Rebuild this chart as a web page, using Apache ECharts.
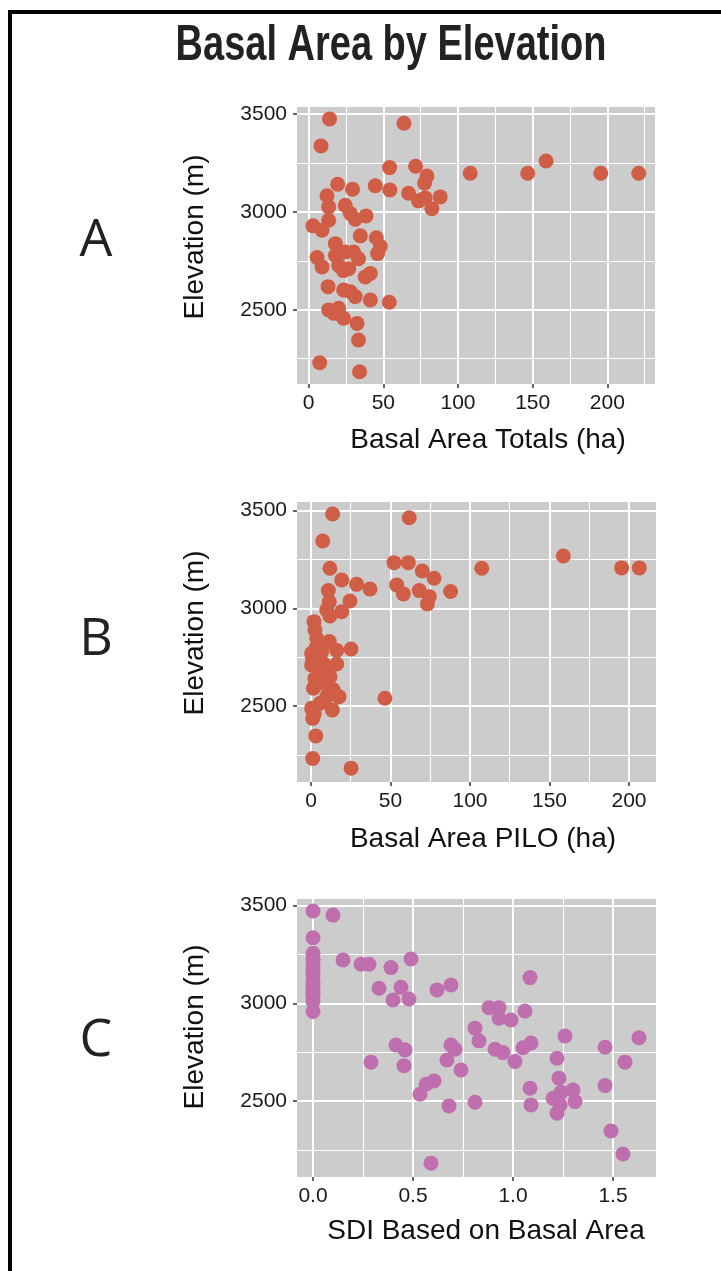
<!DOCTYPE html>
<html><head><meta charset="utf-8">
<script src="https://cdn.jsdelivr.net/npm/echarts@6.0.0/dist/echarts.min.js"></script>
<style>html,body{margin:0;padding:0;background:#fff}#c{width:721px;height:1271px}</style>
</head><body><div id="c"></div>
<script>
// ---- Panel A: Basal Area Totals (ha) vs Elevation (m)
const totalBA = [14.0,63.8,8.3,54.2,71.6,79.2,77.6,108.2,146.7,159.0,195.6,221.0,19.4,29.4,44.6,54.4,66.9,73.6,78.0,82.5,88.1,12.3,13.4,24.5,27.9,31.2,38.4,13.4,2.9,9.0,34.6,45.3,48.0,46.2,17.9,5.6,9.0,17.9,24.5,30.1,33.4,20.1,26.8,23.2,37.9,41.3,13.0,23.4,27.9,31.2,41.3,54.0,13.4,20.1,16.7,23.4,32.4,33.4,7.4,34.1];
const totalElev = [3476,3454,3338,3227,3234,3184,3147,3198,3198,3261,3198,3198,3142,3116,3134,3113,3096,3057,3072,3017,3077,3083,3026,3034,2992,2963,2980,2958,2929,2907,2878,2868,2825,2787,2838,2767,2719,2778,2795,2795,2761,2727,2710,2700,2668,2685,2618,2601,2592,2567,2550,2538,2499,2507,2482,2456,2430,2345,2229,2183];

// ---- Panel B: Basal Area PILO (ha) vs Elevation (m)
const piloBA = [13.6,61.8,7.4,11.9,52.2,61.2,70.0,77.4,107.4,158.7,195.4,206.5,19.3,28.7,37.1,53.9,58.1,68.1,74.4,73.2,87.8,10.9,11.5,24.5,19.3,9.9,11.9,1.9,2.5,3.6,11.5,16.2,25.2,0.4,6.7,0.4,7.7,16.2,5.7,1.5,7.7,14.0,17.6,9.9,46.5,0.4,13.4,5.7,1.1,3.0,1.1,25.2,1.0,2.5,3.5,12.0,8.5,2.0];
const piloElev = [3483,3464,3345,3205,3234,3234,3191,3154,3205,3268,3207,3207,3145,3123,3099,3120,3074,3091,3060,3023,3086,3091,3034,3038,2983,2992,2961,2932,2889,2847,2830,2784,2792,2770,2778,2710,2719,2715,2668,2591,2617,2583,2548,2548,2540,2488,2480,2514,2437,2347,2231,2182,2745,2640,2805,2650,2690,2460];

// ---- Panel C: SDI Based on Basal Area vs Elevation (m)
const sdi = [0,0,0,0,0,0,0,0,0,0,0,0,0,0,0.10,0.15,0.24,0.28,0.39,0.49,0.33,0.44,0.40,0.48,0.62,0.69,0.415,0.46,0.29,0.455,0.535,0.565,0.605,0.68,0.59,0.69,0.71,0.67,0.74,0.81,0.88,0.81,0.83,0.93,0.93,0.99,1.06,1.085,0.91,0.95,1.01,1.05,1.09,1.26,1.22,1.46,1.63,1.56,1.085,1.09,1.23,1.20,1.235,1.22,1.30,1.31,1.46,1.49,1.55,1.24];
const sdiElev = [3473,3336,3256,3226,3197,3170,3145,3111,3090,3069,3050,3034,3010,2958,3452,3222,3200,3200,3183,3227,3077,3082,3017,3022,3069,3094,2787,2762,2699,2681,2535,2586,2603,2475,2182,2787,2765,2710,2659,2494,2978,2873,2808,2978,2924,2915,2961,3132,2765,2748,2702,2773,2797,2833,2719,2775,2824,2699,2566,2480,2617,2514,2480,2438,2557,2497,2579,2347,2229,2545];

// ---- ticks
const baTicks = [0,50,100,150,200];
const baMinorA = [25,75,125,175,225];
const baMinorB = [25,75,125,175];
const sdiTicks = [0,0.5,1.0,1.5];
const sdiMinor = [0.25,0.75,1.25];
const elevTicks = [2500,3000,3500];
const elevMinor = [2250,2750,3250];

const FONT = 'Liberation Sans, Arial, sans-serif';
const RED = '#d05e46';
const PINK = '#c06fae';

function pairs(xs, ys){ return xs.map((x,i)=>[x, ys[i]]); }

function gridMarks(xMaj, xMin, yMaj, yMin){
  const d = [];
  xMin.forEach(v=>d.push({xAxis:v, lineStyle:{width:1.1}}));
  yMin.forEach(v=>d.push({yAxis:v, lineStyle:{width:1.1}}));
  xMaj.forEach(v=>d.push({xAxis:v, lineStyle:{width:2}}));
  yMaj.forEach(v=>d.push({yAxis:v, lineStyle:{width:2}}));
  return {silent:true, z:1, animation:false, symbol:['none','none'], label:{show:false},
    emphasis:{disabled:true}, lineStyle:{color:'#ffffff', type:'solid', opacity:1}, data:d};
}

function xAx(idx, min, max, ticks, fmt){
  return {type:'value', gridIndex:idx, min:min, max:max,
    splitLine:{show:false}, axisLine:{show:false, onZero:false},
    axisTick:{show:true, customValues:ticks, length:4, lineStyle:{color:'#333', width:1.5}},
    axisLabel:{customValues:ticks, margin:9, fontSize:21, color:'#1a1a1a', fontFamily:FONT, formatter:fmt}};
}
function yAx(idx, min, max){
  return {type:'value', gridIndex:idx, min:min, max:max,
    splitLine:{show:false}, axisLine:{show:false, onZero:false},
    axisTick:{show:true, customValues:elevTicks, length:4, lineStyle:{color:'#333', width:1.5}},
    axisLabel:{customValues:elevTicks, margin:10, fontSize:21, color:'#1a1a1a', fontFamily:FONT, formatter:v=>String(Math.round(v))}};
}

const gridBase = {show:true, backgroundColor:'#cccccc', borderWidth:0, containLabel:false};

function txt(text, x, y, size, opts){
  return Object.assign({type:'text', x:x, y:y, silent:true,
    style:{text:text, fontSize:size, fontFamily:FONT, fill:'#111', textAlign:'center', textVerticalAlign:'middle'}}, opts||{});
}
function letter(t, y){
  return {type:'text', x:96, y:y, silent:true,
    style:{text:t, fontSize:52, fontFamily:'Open Sans, Noto Sans, sans-serif', fill:'#222', textAlign:'center', textVerticalAlign:'middle'}};
}

const option = {
  backgroundColor:'#ffffff',
  animation:false,
  grid:[
    Object.assign({left:297, top:107, width:358, height:277}, gridBase),
    Object.assign({left:297, top:502, width:359, height:280}, gridBase),
    Object.assign({left:297, top:899, width:359, height:278}, gridBase)
  ],
  xAxis:[
    xAx(0, -7.8, 231.9, baTicks, v=>String(v)),
    xAx(1, -8.8, 217.0, baTicks, v=>String(v)),
    xAx(2, -0.08, 1.715, sdiTicks, v=>Number(v).toFixed(1))
  ],
  yAxis:[
    yAx(0, 2120, 3537),
    yAx(1, 2111, 3544.5),
    yAx(2, 2111, 3534.3)
  ],
  series:[
    {type:'scatter', xAxisIndex:0, yAxisIndex:0, data:pairs(totalBA,totalElev), symbolSize:15, z:3,
      itemStyle:{color:RED, opacity:1}, markLine:gridMarks(baTicks, baMinorA, elevTicks, elevMinor)},
    {type:'scatter', xAxisIndex:1, yAxisIndex:1, data:pairs(piloBA,piloElev), symbolSize:15, z:3,
      itemStyle:{color:RED, opacity:1}, markLine:gridMarks(baTicks, baMinorB, elevTicks, elevMinor)},
    {type:'scatter', xAxisIndex:2, yAxisIndex:2, data:pairs(sdi,sdiElev), symbolSize:15, z:3,
      itemStyle:{color:PINK, opacity:1}, markLine:gridMarks(sdiTicks, sdiMinor, elevTicks, elevMinor)}
  ],
  graphic:[
    {type:'rect', silent:true, shape:{x:8, y:10, width:713, height:4}, style:{fill:'#000'}},
    {type:'rect', silent:true, shape:{x:8, y:10, width:4, height:1261}, style:{fill:'#000'}},
    {type:'text', x:391, y:46, scaleX:0.76, scaleY:1, silent:true,
      style:{text:'Basal Area by Elevation', fontSize:50, fontWeight:'bold', fontFamily:FONT,
        fill:'#222', textAlign:'center', textVerticalAlign:'middle'}},
    letter('A', 241), letter('B', 640), letter('C', 1041),
    txt('Elevation (m)', 195, 237, 28, {rotation:Math.PI/2}),
    txt('Elevation (m)', 195, 633, 28, {rotation:Math.PI/2}),
    txt('Elevation (m)', 195, 1027, 28, {rotation:Math.PI/2}),
    txt('Basal Area Totals (ha)', 488, 440, 28),
    txt('Basal Area PILO (ha)', 483, 839, 28),
    txt('SDI Based on Basal Area', 486, 1231, 28)
  ]
};

const chart = echarts.init(document.getElementById('c'), null, {renderer:'canvas'});
chart.setOption(option);
</script>
</body></html>
